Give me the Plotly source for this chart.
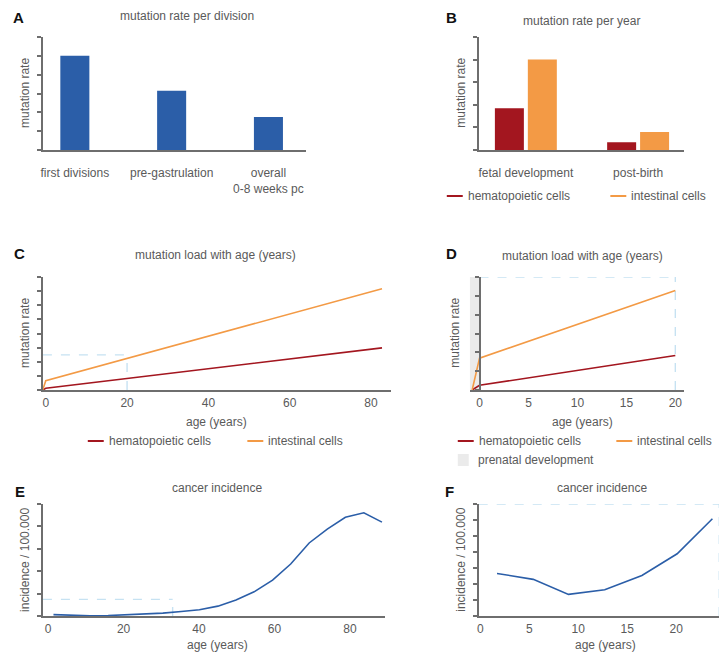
"""
Six-panel figure: mutation rates, mutation load with age and cancer incidence.
"""
import plotly.graph_objects as go

W, H = 727, 654

BLUE      = "#2B5EA8"   # division bars / incidence curves
RED       = "#A3161F"   # hematopoietic cells
ORANGE    = "#F39A45"   # intestinal cells
DASH_BLUE = "#C6E2F2"   # zoom-region outlines
PRENATAL  = "#EBEBEB"
AXIS      = "#6E6E6E"
TEXT      = "#5A5A5A"
FONT      = "Liberation Sans, Arial, sans-serif"

# ---- data ---------------------------------------------------------------
a_stages = ["first divisions", "pre-gastrulation", "overall<br>0-8 weeks pc"]
a_rate = [5.0, 3.15, 1.75]

b_periods = ["fetal development", "post-birth"]
b_hemato = [1.85, 0.34]
b_intest = [4.0, 0.8]

c_age = [-0.75, 0, 82.7]
c_hemato = [0, 0.12, 2.98]
c_intest = [0, 0.66, 7.17]
c_ticks = [0, 20, 40, 60, 80]
c_zoom_age, c_zoom_load = 20, 2.49

d_age = [-0.75, 0, 20]
d_hemato = [0, 0.25, 1.83]
d_intest = [0, 1.69, 5.28]
d_ticks = [0, 5, 10, 15, 20]
d_zoom_age = 20
d_prenatal = [-1, 0]

e_age = [1.4, 6.2, 11.1, 15.9, 20.8, 25.6, 30.4, 35.3, 40.1, 45.0,
         49.8, 54.6, 59.5, 64.3, 69.2, 74.0, 78.8, 83.7, 88.5]
e_incidence = [0.06, 0.03, 0.01, 0.02, 0.05, 0.09, 0.13, 0.2, 0.28, 0.44,
               0.71, 1.08, 1.6, 2.32, 3.26, 3.88, 4.41, 4.61, 4.19]
e_ticks = [0, 20, 40, 60, 80]
e_zoom_age, e_zoom_inc = 33, 0.74

f_age = [1.7, 5.4, 9.0, 12.7, 16.5, 20.1, 23.7]
f_incidence = [2.66, 2.29, 1.35, 1.64, 2.53, 3.89, 6.08]
f_ticks = [0, 5, 10, 15, 20]
f_zoom_age = 24.4

# ---- panel geometry (pixels: left, right, top, bottom) -----------------
PANELS = {
    "A": (33, 297, 29, 142),
    "B": (470, 676, 29, 142),
    "C": (33, 382, 269, 382),
    "D": (461, 676, 269, 382),
    "E": (33, 376, 496, 608),
    "F": (470, 723, 496, 608),
}
RANGES = {
    "A": ([-0.33, 2.39], [0, 6]),
    "B": ([-0.42, 1.41], [0, 5]),
    "C": ([-0.7, 84.9], [0, 8]),
    "D": ([-1, 20.9], [0, 6]),
    "E": ([-1.4, 89.3], [0, 5]),
    "F": ([-0.17, 25.6], [0, 7]),
}
XTICKS = {"C": c_ticks, "D": d_ticks, "E": e_ticks, "F": f_ticks}


def px(x):
    return x / W


def py(y):
    return 1 - y / H


fig = go.Figure()
layout = dict(
    width=W, height=H, margin=dict(l=0, r=0, t=0, b=0),
    paper_bgcolor="white", plot_bgcolor="white",
    font=dict(family=FONT, size=12, color=TEXT),
    showlegend=False, barmode="group", bargap=0.413, bargroupgap=0.12,
)

for i, key in enumerate("ABCDEF", start=1):
    x0, x1, yt, yb = PANELS[key]
    xr, yr = RANGES[key]
    sfx = "" if i == 1 else str(i)
    categorical = key in "AB"
    layout["xaxis" + sfx] = dict(
        domain=[px(x0), px(x1)], anchor="y" + sfx, range=xr,
        showline=True, linecolor=AXIS, linewidth=1.6,
        showgrid=False, zeroline=False,
        ticks="outside", tickcolor="rgba(0,0,0,0)",
        ticklen=11 if categorical else 1,
        tickfont=dict(size=12, color=TEXT),
        fixedrange=True,
    )
    if not categorical:
        layout["xaxis" + sfx].update(tickmode="array", tickvals=XTICKS[key])
    layout["yaxis" + sfx] = dict(
        domain=[py(yb), py(yt)], anchor="x" + sfx, range=yr,
        showline=True, linecolor=AXIS, linewidth=1.6,
        showgrid=False, zeroline=False, showticklabels=False,
        ticks="outside", ticklen=4, tickwidth=1.5, tickcolor=AXIS,
        tickmode="linear", tick0=0, dtick=1, fixedrange=True,
    )

# D: y axis sits on age 0, left of it is prenatal development
x0, x1, _, _ = PANELS["D"]
r0, r1 = RANGES["D"][0]
layout["yaxis4"].update(anchor="free", position=px(x0 + (0 - r0) / (r1 - r0) * (x1 - x0)))

# ---- traces ------------------------------------------------------------
fig.add_trace(go.Bar(x=a_stages, y=a_rate, width=0.3, marker_color=BLUE,
                     marker_line_width=0, xaxis="x", yaxis="y"))

fig.add_trace(go.Bar(x=b_periods, y=b_hemato, marker_color=RED,
                     marker_line_width=0, xaxis="x2", yaxis="y2"))
fig.add_trace(go.Bar(x=b_periods, y=b_intest, marker_color=ORANGE,
                     marker_line_width=0, xaxis="x2", yaxis="y2"))

for sfx, age, hem, ints in (("3", c_age, c_hemato, c_intest),
                            ("4", d_age, d_hemato, d_intest)):
    fig.add_trace(go.Scatter(x=age, y=hem, mode="lines", line=dict(color=RED, width=1.6),
                             xaxis="x" + sfx, yaxis="y" + sfx))
    fig.add_trace(go.Scatter(x=age, y=ints, mode="lines", line=dict(color=ORANGE, width=1.6),
                             xaxis="x" + sfx, yaxis="y" + sfx))

fig.add_trace(go.Scatter(x=e_age, y=e_incidence, mode="lines",
                         line=dict(color=BLUE, width=1.6), xaxis="x5", yaxis="y5"))
fig.add_trace(go.Scatter(x=f_age, y=f_incidence, mode="lines",
                         line=dict(color=BLUE, width=1.6), xaxis="x6", yaxis="y6"))

# ---- zoom outlines and prenatal band -------------------------------------
shapes = []
dash = dict(color=DASH_BLUE, width=1.4, dash="dash")


def seg(sfx, xa, ya, xb, yb):
    shapes.append(dict(type="line", xref="x" + sfx, yref="y" + sfx,
                       x0=xa, y0=ya, x1=xb, y1=yb, line=dash, layer="below"))


seg("3", RANGES["C"][0][0], c_zoom_load, c_zoom_age, c_zoom_load)
seg("3", c_zoom_age, 0, c_zoom_age, c_zoom_load)
seg("4", 0, RANGES["D"][1][1], d_zoom_age, RANGES["D"][1][1])
seg("4", d_zoom_age, 0, d_zoom_age, RANGES["D"][1][1])
seg("5", RANGES["E"][0][0], e_zoom_inc, e_zoom_age, e_zoom_inc)
seg("5", e_zoom_age, 0, e_zoom_age, e_zoom_inc)
seg("6", RANGES["F"][0][0], RANGES["F"][1][1], f_zoom_age, RANGES["F"][1][1])
seg("6", f_zoom_age, 0, f_zoom_age, RANGES["F"][1][1])

shapes.append(dict(type="rect", xref="x4", yref="y4", x0=d_prenatal[0], x1=d_prenatal[1],
                   y0=0, y1=RANGES["D"][1][1], fillcolor=PRENATAL, line_width=0, layer="below"))

# ---- text ----------------------------------------------------------------
annotations = []


def text(x, y, s, size=12, color=TEXT, anchor="center", angle=0):
    annotations.append(dict(x=px(x), y=py(y), xref="paper", yref="paper", text=s,
                            showarrow=False, xanchor=anchor, yanchor="middle",
                            textangle=angle, font=dict(size=size, color=color, family=FONT)))


for letter, (x, y) in {"A": (9, 10), "B": (443, 9), "C": (10, 245),
                       "D": (443, 245), "E": (10, 483), "F": (441, 483)}.items():
    text(x, y, "<b>%s</b>" % letter, size=15, color="#111111")

text(177, 8, "mutation rate per division")
text(573, 13, "mutation rate per year")
text(206, 247, "mutation load with age (years)")
text(574, 248, "mutation load with age (years)")
text(208, 480, "cancer incidence")
text(594, 480, "cancer incidence")

text(15, 85, "mutation rate", angle=-90)
text(452, 85, "mutation rate", angle=-90)
text(15, 325, "mutation rate", angle=-90)
text(446, 325, "mutation rate", angle=-90)
text(15, 552, "incidence / 100.000", angle=-90)
text(452, 552, "incidence / 100.000", angle=-90)

text(207, 414, "age (years)")
text(574, 414, "age (years)")
text(208, 637, "age (years)")
text(597, 637, "age (years)")


def legend_line(x, y, color, label):
    shapes.append(dict(type="line", xref="paper", yref="paper", x0=px(x), x1=px(x + 16),
                       y0=py(y), y1=py(y), line=dict(color=color, width=2)))
    text(x + 19, y, label, anchor="left")


legend_line(438, 188, RED, "hematopoietic cells")
legend_line(602, 188, ORANGE, "intestinal cells")
legend_line(78, 433, RED, "hematopoietic cells")
legend_line(238, 433, ORANGE, "intestinal cells")
legend_line(449, 433, RED, "hematopoietic cells")
legend_line(608, 433, ORANGE, "intestinal cells")
shapes.append(dict(type="rect", xref="paper", yref="paper", x0=px(449), x1=px(460),
                   y0=py(458), y1=py(446), fillcolor=PRENATAL, line_width=0))
text(467, 452, "prenatal development", anchor="left")

layout["shapes"] = shapes
layout["annotations"] = annotations
fig.update_layout(**layout)
fig.write_html("out.html")
